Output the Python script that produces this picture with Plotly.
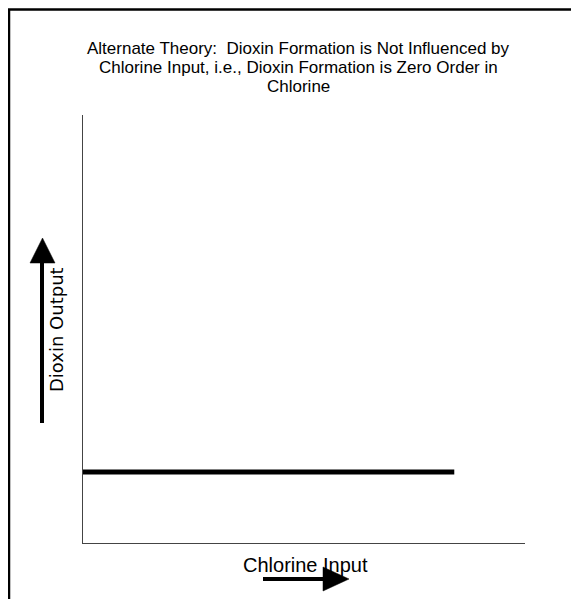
import plotly.graph_objects as go

# Data
chlorine_input = [0, 84]
dioxin_output = [16.6, 16.6]

title_lines = [
    "Alternate Theory:  Dioxin Formation is Not Influenced by",
    "Chlorine Input, i.e., Dioxin Formation is Zero Order in",
    "Chlorine",
]
x_label = "Chlorine Input"
y_label = "Dioxin Output"

OFF = 8  # page body margin
W, H = 579 - OFF, 599 - OFF
L, R, T, B = 83, 525, 115, 543  # plot area in page pixels


def px(x):
    return (x - L) / (R - L)


def py(y):
    return (B - y) / (B - T)


fig = go.Figure()
fig.add_trace(go.Scatter(x=chlorine_input, y=dioxin_output, mode="lines",
                         line=dict(color="black", width=5), showlegend=False,
                         hoverinfo="skip"))

shapes = []
# outer border
shapes.append(dict(type="rect", xref="paper", yref="paper",
                   x0=px(9), x1=px(640), y0=py(660), y1=py(9.5),
                   line=dict(color="black", width=2.5), layer="above"))
# vertical arrow
shapes.append(dict(type="line", xref="paper", yref="paper",
                   x0=px(42), x1=px(42), y0=py(423), y1=py(260),
                   line=dict(color="black", width=4)))
shapes.append(dict(type="path", xref="paper", yref="paper",
                   path=f"M {px(30)} {py(263)} L {px(55)} {py(263)} L {px(42.5)} {py(238)} Z",
                   fillcolor="black", line=dict(color="black", width=0.5)))
# horizontal arrow
shapes.append(dict(type="line", xref="paper", yref="paper",
                   x0=px(263), x1=px(325), y0=py(579), y1=py(579),
                   line=dict(color="black", width=4)))
shapes.append(dict(type="path", xref="paper", yref="paper",
                   path=f"M {px(323)} {py(567)} L {px(323)} {py(591)} L {px(349)} {py(579)} Z",
                   fillcolor="black", line=dict(color="black", width=0.5)))

annotations = []
for line_text, yc in zip(title_lines, [48, 67.5, 86.5]):
    annotations.append(dict(text=line_text, xref="paper", yref="paper",
                            x=px(298), y=py(yc), xanchor="center", yanchor="middle",
                            showarrow=False,
                            font=dict(family="Liberation Sans, Arial", size=17, color="black")))
annotations.append(dict(text=x_label, xref="paper", yref="paper", x=px(305), y=py(565),
                        xanchor="center", yanchor="middle", showarrow=False,
                        font=dict(family="Liberation Sans, Arial", size=20, color="black")))
annotations.append(dict(text=y_label, xref="paper", yref="paper", x=px(56), y=py(330),
                        xanchor="center", yanchor="middle", showarrow=False, textangle=-90,
                        font=dict(family="DejaVu Sans", size=18, color="black")))

fig.update_layout(
    width=W, height=H,
    margin=dict(l=L - OFF, r=W - (R - OFF), t=T - OFF, b=H - (B - OFF), pad=0),
    paper_bgcolor="white", plot_bgcolor="white",
    xaxis=dict(range=[0, 100], showgrid=False, zeroline=False, showticklabels=False,
               ticks="", showline=True, linecolor="#444", linewidth=1.3, fixedrange=True),
    yaxis=dict(range=[0, 100], showgrid=False, zeroline=False, showticklabels=False,
               ticks="", showline=True, linecolor="#444", linewidth=1.3, fixedrange=True),
    shapes=shapes, annotations=annotations,
)

fig.write_html("out.html")
